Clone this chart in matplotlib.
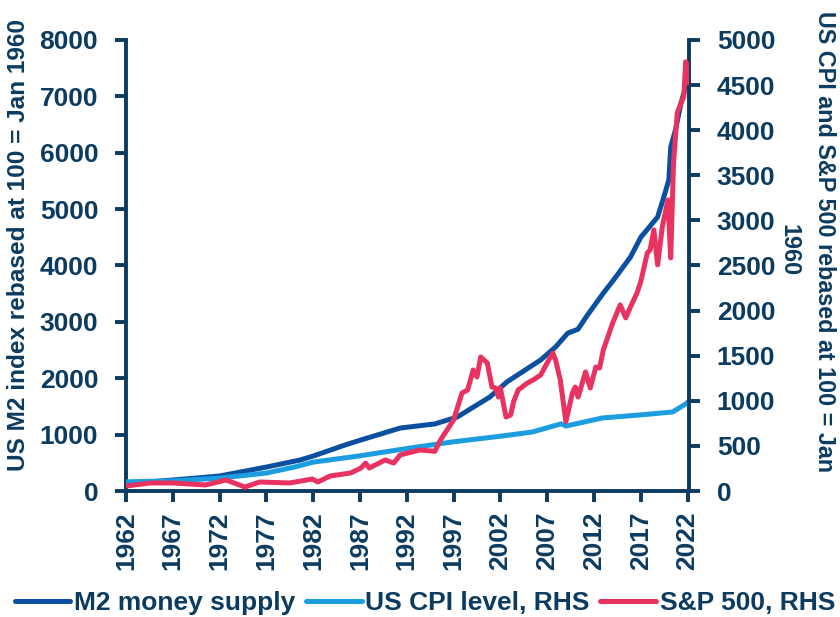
import matplotlib.pyplot as plt

plt.rcParams['font.family'] = ['Liberation Sans', 'DejaVu Sans']
plt.rcParams['font.weight'] = 'bold'

NAVY = '#0b3b60'
M2_COL = '#0a4fa0'
CPI_COL = '#1b9de0'
SP_COL = '#e8325f'

# M2 money supply, left axis (rebased 100 = Jan 1960)
m2_years = [1962.0, 1967.0, 1972.0, 1977.0, 1980.6, 1982.0, 1985.4, 1987.0, 1991.3,
            1995.0, 1997.4, 2000.9, 2002.7, 2006.3, 2007.9, 2009.2, 2010.3, 2011.3,
            2013.0, 2014.1, 2015.9, 2017.0, 2018.8, 2019.6, 2020.0, 2020.2, 2020.7,
            2021.3, 2021.8, 2022.1]
m2_vals = [130, 195, 266, 425, 550, 620, 816, 900, 1117,
           1190, 1313, 1670, 1935, 2324, 2555, 2800, 2870, 3120,
           3510, 3745, 4150, 4500, 4860, 5290, 5520, 6100, 6400,
           6880, 7170, 7250]

# US CPI level, right axis
cpi_years = [1962, 1967, 1972, 1977, 1980, 1982, 1987, 1992, 1996.8, 2002.2,
             2005.4, 2008.5, 2009.0, 2012.9, 2016.9, 2020.4, 2021.8, 2022.1]
cpi_vals = [102, 112, 143, 199, 266, 320, 390, 471, 543, 610,
            654, 745, 720, 810, 843, 876, 965, 990]

# S&P 500, right axis
sp_years = [1962.0, 1964.6, 1967.0, 1970.5, 1972.7, 1974.7, 1976.3, 1979.5, 1981.9,
            1982.5, 1983.8, 1986.0, 1987.1, 1987.6, 1988.0, 1989.7, 1990.6, 1991.3,
            1993.4, 1995.0, 1995.6, 1997.0, 1997.9, 1998.5, 1999.1, 1999.5, 1999.9,
            2000.6, 2001.1, 2001.5, 2001.8, 2002.0, 2002.6, 2003.1, 2003.4, 2003.9,
            2004.9, 2005.5, 2006.3, 2007.0, 2007.6, 2007.9, 2008.4, 2009.0, 2009.7,
            2010.0, 2010.3, 2011.1, 2011.6, 2012.2, 2012.6, 2013.0, 2014.0, 2014.8,
            2015.4, 2015.9, 2016.6, 2017.0, 2017.7, 2018.0, 2018.4, 2018.8, 2019.3,
            2019.9, 2020.2, 2020.5, 2020.9, 2021.3, 2021.6, 2021.8, 2022.0, 2022.1]
sp_vals = [55, 89, 89, 67, 122, 44, 100, 89, 133,
           100, 166, 200, 255, 310, 255, 344, 310, 400,
           455, 440, 566, 787, 1087, 1120, 1342, 1264, 1486,
           1420, 1153, 1142, 1042, 1142, 820, 843, 987, 1120,
           1198, 1231, 1286, 1420, 1530, 1453, 1231, 770, 1087,
           1153, 1042, 1320, 1142, 1375, 1364, 1564, 1863, 2063,
           1919, 2041, 2196, 2320, 2640, 2673, 2895, 2507, 2928,
           3227, 2584, 3637, 4192, 4303, 4370, 4758, 4700, 4525]

year_ticks = list(range(1962, 2023, 5))

fig = plt.figure(figsize=(8.4, 6.17), dpi=100)
ax = fig.add_axes([0.15, 0.2042, 0.6702, 0.731])
ax2 = ax.twinx()

l1, = ax.plot(m2_years, m2_vals, color=M2_COL, lw=3.6, solid_capstyle='round',
              label='M2 money supply', zorder=3)
l2, = ax2.plot(cpi_years, cpi_vals, color=CPI_COL, lw=3.6, solid_capstyle='round',
               label='US CPI level, RHS', zorder=2)
l3, = ax2.plot(sp_years, sp_vals, color=SP_COL, lw=3.6, solid_capstyle='round',
               label='S&P 500, RHS', zorder=4)

ax.set_xlim(1962, 2022.15)
ax.set_ylim(0, 8000)
ax2.set_ylim(0, 5000)
ax.set_yticks(range(0, 8001, 1000))
ax2.set_yticks(range(0, 5001, 500))
ax.set_xticks(year_ticks)
ax.set_xticklabels([str(y) for y in year_ticks], rotation=90)

for a in (ax, ax2):
    a.spines['top'].set_visible(False)
    for s in ('left', 'right', 'bottom'):
        a.spines[s].set_color(NAVY)
        a.spines[s].set_linewidth(2.8)
    a.tick_params(colors=NAVY, width=2.8, length=8, labelsize=19, direction='out')
ax.spines['right'].set_visible(False)
ax2.spines['left'].set_visible(False)
ax2.spines['bottom'].set_visible(False)
ax.tick_params(axis='y', pad=12)
ax2.tick_params(axis='y', pad=12)
ax.tick_params(axis='x', pad=7)

ax.set_ylabel('US M2 index rebased at 100 = Jan 1960', color=NAVY, fontsize=17.6,
              fontweight='bold')
ax.yaxis.set_label_coords(-0.17, 0.545)

# right-hand label wraps onto two lines
fig.text(0.981, 0.608, 'US CPI and S&P 500 rebased at 100 = Jan', rotation=-90,
         ha='center', va='center', color=NAVY, fontsize=16.8, fontweight='bold')
fig.text(0.939, 0.595, '1960', rotation=-90, ha='center', va='center',
         color=NAVY, fontsize=16.8, fontweight='bold')

fig.legend(handles=[l1, l2, l3], loc='center', bbox_to_anchor=(0.506, 1 - 603 / 617),
           ncol=3, frameon=False, fontsize=19, handlelength=2.1,
           handletextpad=0.15, columnspacing=0.4, labelcolor=NAVY,
           borderpad=0, borderaxespad=0)

fig.savefig('out.png', dpi=100)
